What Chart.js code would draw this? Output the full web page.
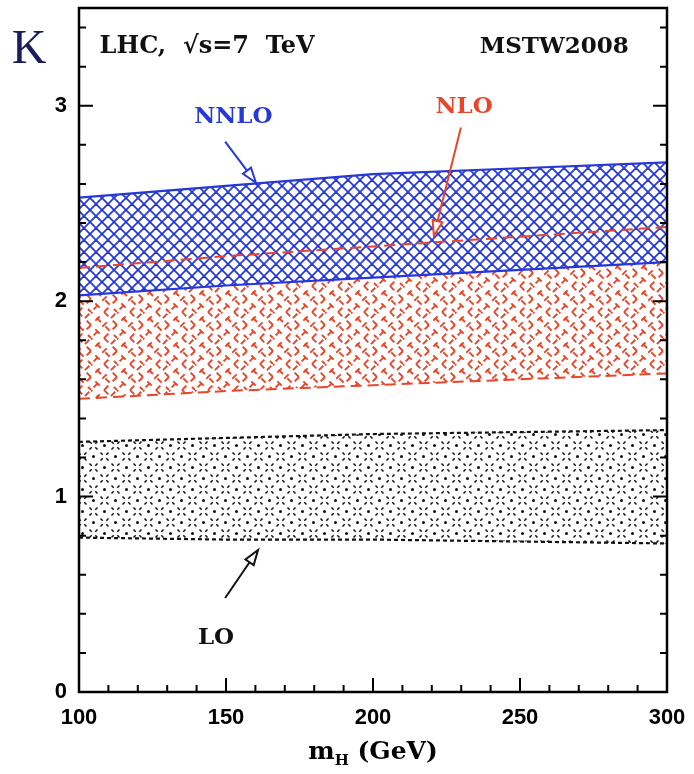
<!DOCTYPE html>
<html>
<head>
<meta charset="utf-8">
<script src="https://cdn.jsdelivr.net/npm/chart.js@4/dist/chart.umd.min.js"></script>
<style>
  html, body { margin: 0; padding: 0; background: #fff; }
  #wrap { width: 694px; height: 774px; position: relative; }
</style>
</head>
<body>
<div id="wrap"><canvas id="c" width="694" height="774"></canvas></div>
<script>
// ---- data ----
const mH        = [100, 150, 200, 250, 300];
const nnloUpper = [2.53, 2.59, 2.65, 2.68, 2.71];
const nnloLower = [2.03, 2.08, 2.12, 2.16, 2.20];
const nloUpper  = [2.17, 2.23, 2.28, 2.33, 2.38];
const nloLower  = [1.50, 1.54, 1.57, 1.60, 1.63];
const loUpper   = [1.28, 1.30, 1.32, 1.33, 1.34];
const loLower   = [0.79, 0.78, 0.78, 0.77, 0.76];
const xTickLabels = [100, 150, 200, 250, 300];
const yTickLabels = [0, 1, 2, 3];
const xMinorStep = 10;
const yMinorStep = 0.2;

// ---- styles ----
const BLUE = '#2538d8';
const RED  = '#e8452a';
const BLACK = '#111111';

const mainCtx = document.getElementById('c').getContext('2d');
function makePattern(w, h, draw) {
  const t = document.createElement('canvas');
  t.width = w; t.height = h;
  const g = t.getContext('2d');
  draw(g, w, h);
  return mainCtx.createPattern(t, 'repeat');
}
const bluePattern = makePattern(12, 12, (g, s) => {
  g.fillStyle = '#ffffff'; g.fillRect(0, 0, s, s);
  g.strokeStyle = BLUE; g.lineWidth = 1.8;
  for (let k = -1; k <= 1; k++) {
    g.beginPath(); g.moveTo(k * s, 0); g.lineTo(k * s + s, s); g.stroke();
    g.beginPath(); g.moveTo(k * s + s, 0); g.lineTo(k * s, s); g.stroke();
  }
});
const redPattern = makePattern(26, 26, (g, s) => {
  g.fillStyle = '#ffffff'; g.fillRect(0, 0, s, s);
  g.strokeStyle = RED; g.lineWidth = 1.9;
  const d = s * Math.SQRT2 / 3;
  g.setLineDash([d * 0.5, d * 0.5]);
  for (let k = -2; k <= 2; k++) {
    g.lineDashOffset = (k & 1) ? d * 0.35 : 0;
    g.beginPath(); g.moveTo(k * 13, 0); g.lineTo(k * 13 + s, s); g.stroke();
    g.lineDashOffset = (k & 1) ? d * 0.8 : d * 0.5;
    g.beginPath(); g.moveTo(k * 13 + s, 0); g.lineTo(k * 13, s); g.stroke();
  }
});
const blackPattern = makePattern(22, 22, (g, s) => {
  g.fillStyle = '#ffffff'; g.fillRect(0, 0, s, s);
  g.fillStyle = BLACK; g.strokeStyle = BLACK; g.lineWidth = 1.5;
  const dot = (x, y, r) => { g.beginPath(); g.arc(x, y, r, 0, Math.PI * 2); g.fill(); };
  const seg = (x0, y0, x1, y1) => { g.beginPath(); g.moveTo(x0, y0); g.lineTo(x1, y1); g.stroke(); };
  [[5.5, 5.5], [16.5, 16.5]].forEach(([cx, cy]) => {
    seg(cx - 4, cy - 4, cx - 1.8, cy - 1.8); seg(cx + 4, cy - 4, cx + 1.8, cy - 1.8);
    seg(cx - 4, cy + 4, cx - 1.8, cy + 1.8); seg(cx + 4, cy + 4, cx + 1.8, cy + 1.8);
  });
  dot(16.5, 5.5, 1.5); dot(5.5, 16.5, 1.5);
});

const pts = (ys) => mH.map((x, i) => ({ x: x, y: ys[i] }));

// annotation positions in data units
const labels = [
  { text: 'NNLO', x: 152.5, y: 2.944, color: BLUE, align: 'center', size: 23 },
  { text: 'NLO',  x: 231.0, y: 2.995, color: RED,  align: 'center', size: 23 },
  { text: 'LO',   x: 146.6, y: 0.277, color: BLACK, align: 'center', size: 23 },
  { text: 'LHC,  \u221As=7  TeV', x: 107, y: 3.30, color: BLACK, align: 'left', size: 24 },
  { text: 'MSTW2008', x: 287.0, y: 3.30, color: BLACK, align: 'right', size: 23 }
];
const arrows = [
  { x0: 149.7, y0: 2.816, x1: 160.2, y1: 2.606, color: BLUE },
  { x0: 229.9, y0: 2.888, x1: 220.7, y1: 2.335, color: RED },
  { x0: 149.7, y0: 0.481, x1: 160.9, y1: 0.727, color: BLACK }
];

const SERIF = '"DejaVu Serif", "Liberation Serif", serif';

const decor = {
  id: 'decor',
  afterDraw(chart) {
    const ctx = chart.ctx, a = chart.chartArea;
    const xs = chart.scales.x, ys = chart.scales.y;
    ctx.save();
    // frame
    ctx.strokeStyle = '#000'; ctx.lineWidth = 2.5;
    ctx.strokeRect(a.left, a.top, a.right - a.left, a.bottom - a.top);
    // ticks
    ctx.lineWidth = 2;
    ctx.beginPath();
    for (let v = xs.min; v <= xs.max + 1e-9; v += xMinorStep) {
      const px = xs.getPixelForValue(v);
      const major = xTickLabels.includes(Math.round(v));
      const L = major ? 14 : 7;
      ctx.moveTo(px, a.bottom); ctx.lineTo(px, a.bottom - L);
    }
    for (let v = ys.min; v <= ys.max + 1e-9; v += yMinorStep) {
      const py = ys.getPixelForValue(v);
      const major = yTickLabels.some(t => Math.abs(t - v) < 1e-6);
      const L = major ? 14 : 7;
      ctx.moveTo(a.left, py); ctx.lineTo(a.left + L, py);
      ctx.moveTo(a.right, py); ctx.lineTo(a.right - L, py);
    }
    ctx.stroke();
    // labels
    labels.forEach(l => {
      ctx.font = 'bold ' + l.size + 'px ' + SERIF;
      ctx.fillStyle = l.color;
      ctx.textAlign = l.align;
      ctx.textBaseline = 'middle';
      ctx.fillText(l.text, xs.getPixelForValue(l.x), ys.getPixelForValue(l.y));
    });
    // arrows
    arrows.forEach(ar => {
      const x0 = xs.getPixelForValue(ar.x0), y0 = ys.getPixelForValue(ar.y0);
      const x1 = xs.getPixelForValue(ar.x1), y1 = ys.getPixelForValue(ar.y1);
      const ang = Math.atan2(y1 - y0, x1 - x0);
      const hl = 15, hw = 5;
      const bx = x1 - hl * Math.cos(ang), by = y1 - hl * Math.sin(ang);
      ctx.strokeStyle = ar.color; ctx.lineWidth = 2;
      ctx.beginPath(); ctx.moveTo(x0, y0); ctx.lineTo(bx, by); ctx.stroke();
      ctx.beginPath();
      ctx.moveTo(x1, y1);
      ctx.lineTo(bx + hw * Math.sin(ang), by - hw * Math.cos(ang));
      ctx.lineTo(bx - hw * Math.sin(ang), by + hw * Math.cos(ang));
      ctx.closePath();
      ctx.fillStyle = '#fff'; ctx.fill(); ctx.stroke();
    });
    // K label
    ctx.fillStyle = '#1c1c5c';
    ctx.font = '48px "Liberation Serif", serif';
    ctx.textAlign = 'center'; ctx.textBaseline = 'middle';
    ctx.fillText('K', 29, 50);
    // x axis title with subscript
    ctx.fillStyle = '#000';
    ctx.textBaseline = 'alphabetic';
    ctx.textAlign = 'left';
    const f1 = 'bold 25px ' + SERIF, f2 = 'bold 15px ' + SERIF;
    ctx.font = f1; const wm = ctx.measureText('m').width;
    const wr = ctx.measureText(' (GeV)').width;
    ctx.font = f2; const wh = ctx.measureText('H').width;
    const total = wm + wh + wr;
    let cx = (a.left + a.right) / 2 - total / 2;
    const base = 759;
    ctx.font = f1; ctx.fillText('m', cx, base); cx += wm;
    ctx.font = f2; ctx.fillText('H', cx, base + 6); cx += wh;
    ctx.font = f1; ctx.fillText(' (GeV)', cx, base);
    ctx.restore();
  }
};

const zeroPad = (s) => { s.paddingLeft = 0; s.paddingRight = 0; s.paddingTop = 0; s.paddingBottom = 0; };

new Chart(mainCtx, {
  type: 'line',
  data: {
    datasets: [
      { data: pts(nnloUpper), borderColor: BLUE, borderWidth: 2.2, pointRadius: 0, fill: { target: '+1' }, backgroundColor: bluePattern },
      { data: pts(nnloLower), borderColor: BLUE, borderWidth: 2.2, pointRadius: 0, fill: false },
      { data: pts(nloUpper), borderColor: RED, borderWidth: 2, borderDash: [11, 6], pointRadius: 0, fill: { target: '+1' }, backgroundColor: redPattern },
      { data: pts(nloLower), borderColor: RED, borderWidth: 2, borderDash: [11, 6], pointRadius: 0, fill: false },
      { data: pts(loUpper), borderColor: BLACK, borderWidth: 2.2, borderDash: [4, 3], pointRadius: 0, fill: { target: '+1' }, backgroundColor: blackPattern },
      { data: pts(loLower), borderColor: BLACK, borderWidth: 2.2, borderDash: [4, 3], pointRadius: 0, fill: false }
    ]
  },
  options: {
    responsive: false,
    animation: false,
    layout: { padding: { left: 0, top: 8, right: 27, bottom: 0 } },
    plugins: {
      legend: { display: false },
      tooltip: { enabled: false },
      filler: { drawTime: 'beforeDatasetsDraw' }
    },
    elements: { line: { tension: 0 } },
    scales: {
      x: {
        type: 'linear', min: 100, max: 300,
        grid: { display: false, drawTicks: false },
        border: { display: false },
        ticks: { stepSize: 50, color: '#000', padding: 13, font: { family: '"Liberation Sans", Arial, sans-serif', weight: 'bold', size: 22 }, maxRotation: 0 },
        afterBuildTicks: (s) => { s.ticks = xTickLabels.map(v => ({ value: v })); },
        afterFit: (s) => { s.height = 82; zeroPad(s); }
      },
      y: {
        type: 'linear', min: 0, max: 3.5,
        grid: { display: false, drawTicks: false },
        border: { display: false },
        ticks: { color: '#000', padding: 12, font: { family: '"Liberation Sans", Arial, sans-serif', weight: 'bold', size: 22 } },
        afterBuildTicks: (s) => { s.ticks = yTickLabels.map(v => ({ value: v })); },
        afterFit: (s) => { s.width = 79; zeroPad(s); }
      }
    }
  },
  plugins: [decor]
});
</script>
</body>
</html>
